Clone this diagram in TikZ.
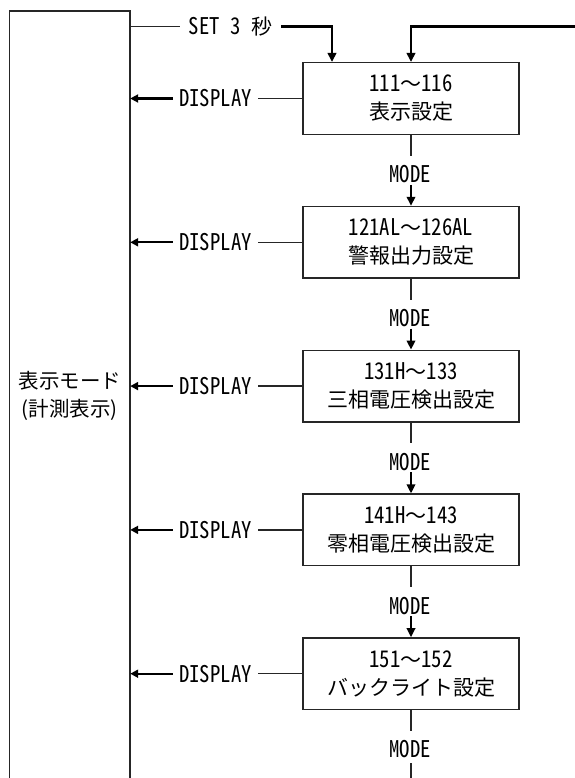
\documentclass[tikz,border=0pt]{standalone}
\usepackage{fontspec}
\setmainfont{Noto Sans CJK JP}
\newfontfamily\lt[RawFeature=+hwid,FakeStretch=0.9]{Noto Sans CJK JP}
\usetikzlibrary{arrows.meta,calc}
\begin{document}
\begin{tikzpicture}[x=1pt,y=-1pt,
  thinl/.style={line width=1.5pt, draw=black!85},
  thickl/.style={line width=2.3pt, draw=black, -{Triangle[length=9pt,width=8.5pt]}},
  sbox/.style={draw=black!85, line width=1.5pt, minimum width=216pt, minimum height=71.6pt,
    align=center, inner sep=0pt, font=\fontsize{21}{28}\selectfont},
  lab/.style={inner xsep=6.5pt, inner ysep=0pt, font=\fontsize{23}{24}\selectfont\lt},
  mlab/.style={inner sep=0pt, font=\fontsize{23}{24}\selectfont\lt}]
\useasboundingbox (0,0) rectangle (574,778);

% left box (open at the bottom)
\node[minimum width=120.5pt, minimum height=767pt, inner sep=0pt] (L) at (69.75,394.5) {};
\draw[thinl, line width=1.6pt] (L.south west) |- (L.north east) -- (L.south east);
\node[align=center, inner sep=0pt, font=\fontsize{20.5}{28}\selectfont] (Ltxt) at (69.75,396)
  {表示モード\\(計測表示)};

% setting boxes
\node[sbox] (b1) at (411,98.5)  {{\lt\fontsize{23}{28}\selectfont 111}～{\lt\fontsize{23}{28}\selectfont 116}\\表示設定};
\node[sbox] (b2) at (411,242.3) {{\lt\fontsize{23}{28}\selectfont 121AL}～{\lt\fontsize{23}{28}\selectfont 126AL}\\警報出力設定};
\node[sbox] (b3) at (411,386.1) {{\lt\fontsize{23}{28}\selectfont 131H}～{\lt\fontsize{23}{28}\selectfont 133}\\三相電圧検出設定};
\node[sbox] (b4) at (411,529.9) {{\lt\fontsize{23}{28}\selectfont 141H}～{\lt\fontsize{23}{28}\selectfont 143}\\零相電圧検出設定};
\node[sbox] (b5) at (411,673.7) {{\lt\fontsize{23}{28}\selectfont 151}～{\lt\fontsize{23}{28}\selectfont 152}\\バックライト設定};

% SET 3 seconds
\node[lab, inner xsep=9pt] (set) at (230.5,26.5) {SET 3 {\rmfamily\fontsize{21}{24}\selectfont 秒}};
\draw[thinl] (set.west -| L.east) -- (set.west);
\draw[thickl] (set.east) -| ($(b1.north)+(-79,0)$);
\coordinate (rin) at (576,26.5);
\draw[thickl] (rin) -| (b1.north);

% DISPLAY returns
\foreach \i in {1,...,5}{
  \node[lab] (d\i) at ($(b\i.center -| 215.5,0)$) {DISPLAY};
  \draw[thinl] (b\i.west) -- (d\i.east);
  \draw[thickl, -{Triangle[length=8pt,width=8pt]}] (d\i.west) -- (d\i.west -| L.east);
}

% MODE transitions
\foreach \i/\j in {1/2,2/3,3/4,4/5}{
  \node[mlab] (m\i) at ($(b\i.south)+(-1,39.2)$) {MODE};
  \draw[thinl] (b\i.south) -- ($(b\i.south)+(0,20.7)$);
  \draw[thickl, line width=2pt] ($(b\j.north)+(0,-21)$) -- (b\j.north);
}
\node[mlab] (m5) at ($(b5.south)+(-1,39.2)$) {MODE};
\coordinate (mend) at (411,780);
\draw[thinl] (b5.south) -- ($(b5.south)+(0,20.7)$);
\draw[thinl] ($(b5.south)+(0,53)$) -- (mend);
\end{tikzpicture}
\end{document}
